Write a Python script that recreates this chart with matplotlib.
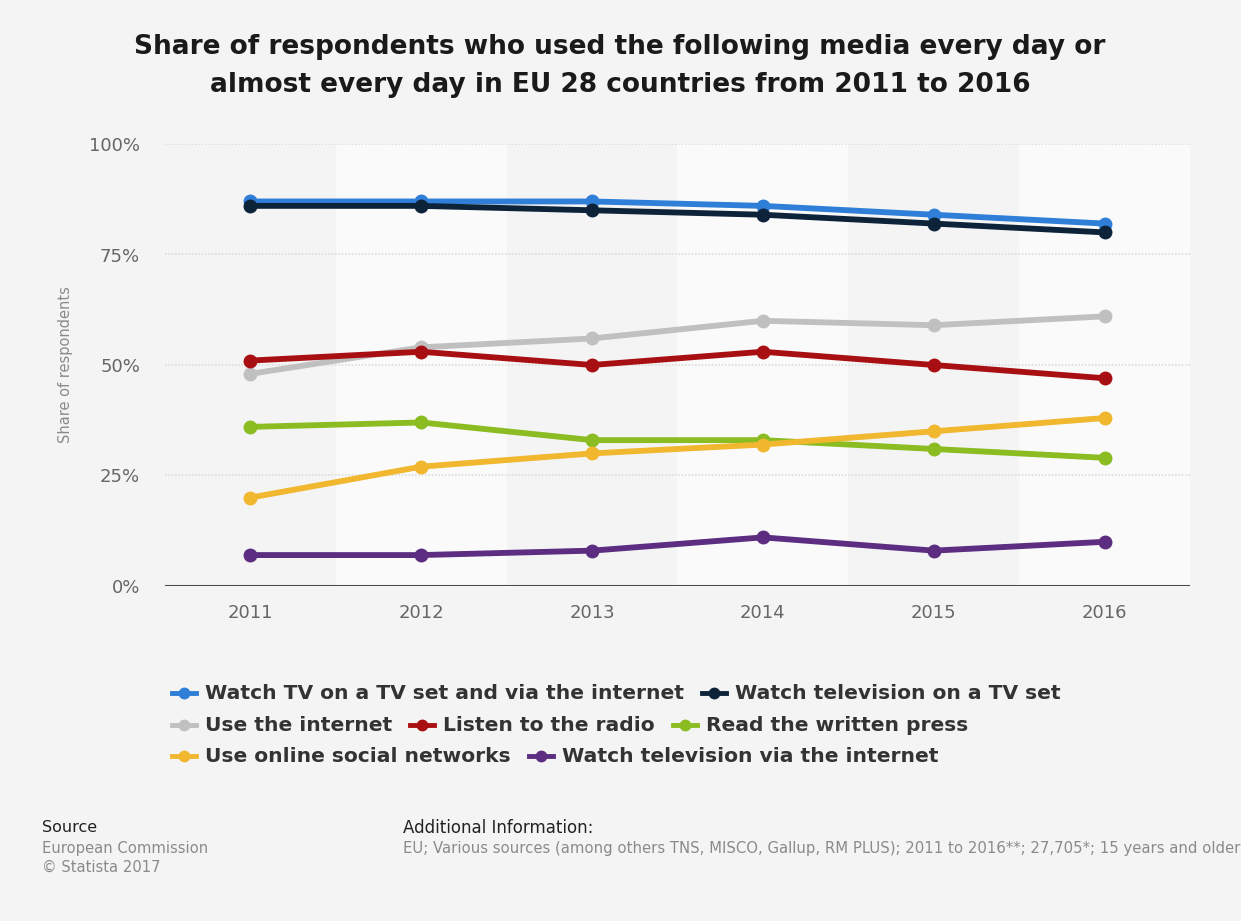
import matplotlib
matplotlib.use("Agg")
import matplotlib.pyplot as plt
from matplotlib.lines import Line2D

years = ["2011", "2012", "2013", "2014", "2015", "2016"]

tv_set_and_internet = [87, 87, 87, 86, 84, 82]
tv_set = [86, 86, 85, 84, 82, 80]
use_internet = [48, 54, 56, 60, 59, 61]
radio = [51, 53, 50, 53, 50, 47]
written_press = [36, 37, 33, 33, 31, 29]
social_networks = [20, 27, 30, 32, 35, 38]
tv_via_internet = [7, 7, 8, 11, 8, 10]

series_labels = [
    "Watch TV on a TV set and via the internet",
    "Watch television on a TV set",
    "Use the internet",
    "Listen to the radio",
    "Read the written press",
    "Use online social networks",
    "Watch television via the internet",
]
series_values = [tv_set_and_internet, tv_set, use_internet, radio,
                 written_press, social_networks, tv_via_internet]
series_colors = ["#2f7ed8", "#0d233a", "#c0c0c0", "#a80f12",
                 "#8bbc21", "#f0b72f", "#5c2d80"]
legend_rows = [[0, 1], [2, 3, 4], [5, 6]]

y_ticks = [0, 25, 50, 75, 100]
y_tick_labels = ["0%", "25%", "50%", "75%", "100%"]

W, H = 1241, 921
bg = "#f4f4f4"
fig = plt.figure(figsize=(W / 100, H / 100), dpi=100, facecolor=bg)
ax = fig.add_axes([165 / W, 1 - 586 / H, (1190 - 165) / W, (586 - 144) / H])
ax.set_facecolor(bg)

x = list(range(len(years)))
# alternating column bands
for i in range(1, len(years), 2):
    ax.axvspan(i - 0.5, i + 0.5, color="#fafafa", zorder=0, lw=0)

for t in y_ticks[1:]:
    ax.axhline(t, color="#dcdcdc", lw=1.2, ls=(0, (1, 1)), zorder=1)
ax.axhline(0, color="#4a4a4a", lw=2.2, zorder=2)

for k, (vals, col) in enumerate(zip(series_values, series_colors)):
    ax.plot(x, vals, color=col, lw=4.2, marker="o", ms=9,
            solid_capstyle="round", zorder=3 + k)

ax.set_xlim(-0.5, len(years) - 0.5)
ax.set_ylim(0, 100)
ax.set_xticks(x)
ax.set_xticklabels(years)
ax.set_yticks(y_ticks)
ax.set_yticklabels(y_tick_labels)
ax.tick_params(axis="both", length=0, labelsize=13, labelcolor="#666666")
ax.tick_params(axis="x", pad=13)
ax.tick_params(axis="y", pad=18)
for s in ax.spines.values():
    s.set_visible(False)
ax.set_ylabel("Share of respondents", fontsize=10.5, color="#8a8a8a")
ax.yaxis.set_label_coords((73 - 165) / (1190 - 165), 0.5)

fig.text(620 / W, 1 - 66 / H,
         "Share of respondents who used the following media every day or\n"
         "almost every day in EU 28 countries from 2011 to 2016",
         ha="center", va="center", fontsize=19, fontweight="bold",
         color="#1a1a1a", linespacing=1.6)

# legend laid out in flowing rows
fig.canvas.draw()
renderer = fig.canvas.get_renderer()
row_y = [693, 725, 756]
for r, idxs in enumerate(legend_rows):
    xpos = 172
    yy = 1 - row_y[r] / H
    for idx in idxs:
        fig.add_artist(Line2D([xpos / W, (xpos + 24) / W], [yy, yy],
                              color=series_colors[idx], lw=3.5,
                              transform=fig.transFigure))
        fig.add_artist(Line2D([(xpos + 12) / W], [yy], color=series_colors[idx],
                              marker="o", ms=7.5, transform=fig.transFigure))
        t = fig.text((xpos + 33) / W, yy, series_labels[idx], ha="left",
                     va="center", fontsize=14.6, fontweight="bold",
                     color="#333333")
        bb = t.get_window_extent(renderer=renderer)
        xpos = bb.x1 + 18

fig.text(42 / W, 1 - 828 / H, "Source", fontsize=11.5, color="#222222",
         va="center")
fig.text(42 / W, 1 - 848 / H, "European Commission", fontsize=10.6,
         color="#8a8a8a", va="center")
fig.text(42 / W, 1 - 867 / H, "\u00a9 Statista 2017", fontsize=10.6,
         color="#8a8a8a", va="center")
fig.text(403 / W, 1 - 828 / H, "Additional Information:", fontsize=12,
         color="#222222", va="center")
fig.text(403 / W, 1 - 848 / H,
         "EU; Various sources (among others TNS, MISCO, Gallup, RM PLUS); "
         "2011 to 2016**; 27,705*; 15 years and older",
         fontsize=10.7, color="#8a8a8a", va="center")

fig.savefig("out.png", dpi=100, facecolor=bg)
